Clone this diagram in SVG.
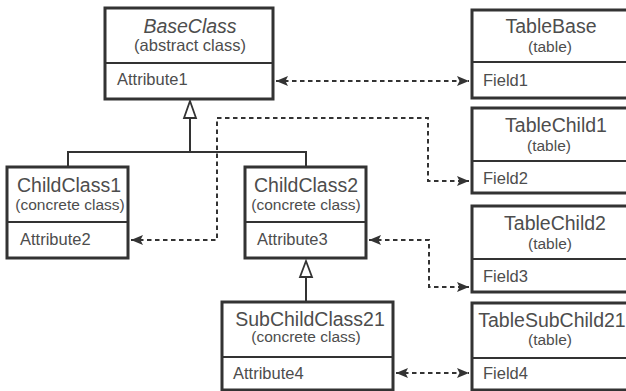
<svg xmlns="http://www.w3.org/2000/svg" width="626" height="391" viewBox="0 0 626 391">
<style>
.box{fill:#fff;stroke:#333;stroke-width:3}
.div{stroke:#333;stroke-width:2}
text{font-family:"Liberation Sans",Arial,sans-serif;fill:#4d4d4d}
.t{font-size:19.5px;text-anchor:middle}
.s{font-size:15.5px;text-anchor:middle}
.a{font-size:16.5px}
.inh{fill:none;stroke:#333;stroke-width:2}
.tri{fill:#fff;stroke:#333;stroke-width:1.8}
.dash{fill:none;stroke:#333;stroke-width:2;stroke-dasharray:4.5 3.5}
</style>
<defs>
<marker id="arr" markerUnits="userSpaceOnUse" markerWidth="13" markerHeight="11" refX="12" refY="5" orient="auto-start-reverse">
<path d="M0,0 L12,5 L0,10 L2.5,5 z" fill="#333"/>
</marker>
</defs>
<rect width="626" height="391" fill="#fff"/>
<g id="connectors">
<path class="inh" d="M190,118 V152 M68,167 V152 H306 V167"/>
<path class="tri" d="M190,101 L196,118 L184,118 z"/>
<path class="inh" d="M306,277 V302"/>
<path class="tri" d="M306,261 L312,277 L300,277 z"/>
<path class="dash" d="M276,81 H469" marker-start="url(#arr)" marker-end="url(#arr)"/>
<path class="dash" d="M131,240 H217 V118 H428 V181 H469" marker-start="url(#arr)" marker-end="url(#arr)"/>
<path class="dash" d="M369,240 H429 V287 H469" marker-start="url(#arr)" marker-end="url(#arr)"/>
<path class="dash" d="M396,373 H469" marker-start="url(#arr)" marker-end="url(#arr)"/>
</g>
<g id="BaseClass">
<rect class="box" x="105" y="8" width="168" height="91"/>
<line class="div" x1="105" y1="63" x2="273" y2="63"/>
<text class="t" x="190" y="32.5" font-style="italic">BaseClass</text>
<text class="s" x="190" y="50.5" style="font-size:16.5px">(abstract class)</text>
<text class="a" x="117" y="85">Attribute1</text>
</g>
<g id="ChildClass1">
<rect class="box" x="7" y="167" width="121" height="91"/>
<line class="div" x1="7" y1="222" x2="128" y2="222"/>
<text class="t" x="69" y="191.5">ChildClass1</text>
<text class="s" x="70" y="210">(concrete class)</text>
<text class="a" x="20" y="245">Attribute2</text>
</g>
<g id="ChildClass2">
<rect class="box" x="245" y="167" width="121" height="91"/>
<line class="div" x1="245" y1="222" x2="366" y2="222"/>
<text class="t" x="306" y="191.5">ChildClass2</text>
<text class="s" x="306" y="210">(concrete class)</text>
<text class="a" x="257" y="245">Attribute3</text>
</g>
<g id="SubChildClass21">
<rect class="box" x="222" y="302" width="171" height="88"/>
<line class="div" x1="222" y1="357" x2="393" y2="357"/>
<text class="t" x="310" y="325.5">SubChildClass21</text>
<text class="s" x="306" y="342">(concrete class)</text>
<text class="a" x="233" y="379">Attribute4</text>
</g>
<g id="TableBase">
<rect class="box" x="472" y="10" width="160" height="88"/>
<line class="div" x1="472" y1="62" x2="632" y2="62"/>
<text class="t" x="551" y="32.5">TableBase</text>
<text class="s" x="550" y="51.5">(table)</text>
<text class="a" x="483" y="86">Field1</text>
</g>
<g id="TableChild1">
<rect class="box" x="472" y="108" width="160" height="85"/>
<line class="div" x1="472" y1="161" x2="632" y2="161"/>
<text class="t" x="556" y="131.5">TableChild1</text>
<text class="s" x="549" y="150.5">(table)</text>
<text class="a" x="483" y="183.5">Field2</text>
</g>
<g id="TableChild2">
<rect class="box" x="472" y="206" width="160" height="86"/>
<line class="div" x1="472" y1="259" x2="632" y2="259"/>
<text class="t" x="555" y="229.5">TableChild2</text>
<text class="s" x="550" y="248.5">(table)</text>
<text class="a" x="483" y="281.5">Field3</text>
</g>
<g id="TableSubChild21">
<rect class="box" x="472" y="303" width="160" height="87"/>
<line class="div" x1="472" y1="358" x2="632" y2="358"/>
<text class="t" x="552" y="326.5">TableSubChild21</text>
<text class="s" x="550" y="345">(table)</text>
<text class="a" x="483" y="379">Field4</text>
</g>
</svg>
